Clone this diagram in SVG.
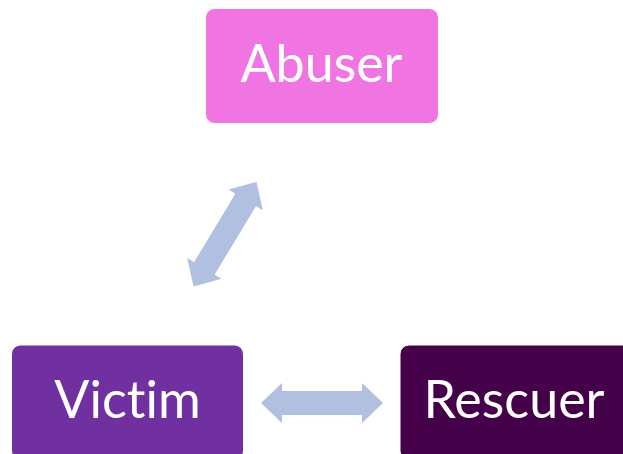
<svg xmlns="http://www.w3.org/2000/svg" width="623" height="454" viewBox="0 0 623 454">
<style>
.box{stroke:#ffffff;stroke-width:1}
.lbl{font-family:Lato,"Open Sans","Liberation Sans",sans-serif;font-size:52px;fill:#ffffff;text-anchor:middle;font-variant-ligatures:none;font-feature-settings:"liga" 0}
.arr{fill:#B1BFE0}
</style>
<defs>
<polygon id="dbl" points="-61,0 -40,-20 -40,-12 40,-12 40,-20 61,0 40,20 40,12 -40,12 -40,20"/>
</defs>
<rect width="623" height="454" fill="#ffffff"/>
<g id="connectors">
<use href="#dbl" class="arr" transform="translate(225,234.2) rotate(-58.9)"/>
<use href="#dbl" class="arr" transform="translate(322,403)"/>
</g>
<g id="abuser">
<rect class="box" x="205.5" y="8.5" width="233" height="115" rx="9" fill="#F075E3"/>
<text class="lbl" x="321.5" y="82">Abuser</text>
</g>
<g id="victim">
<rect class="box" x="11.5" y="345" width="232" height="115" rx="9" fill="#7030A0"/>
<text class="lbl" x="127.5" y="418">Victim</text>
</g>
<g id="rescuer">
<rect class="box" x="400" y="345" width="233" height="115" rx="9" fill="#45004A"/>
<text class="lbl" x="514" y="418">Rescuer</text>
</g>
</svg>
